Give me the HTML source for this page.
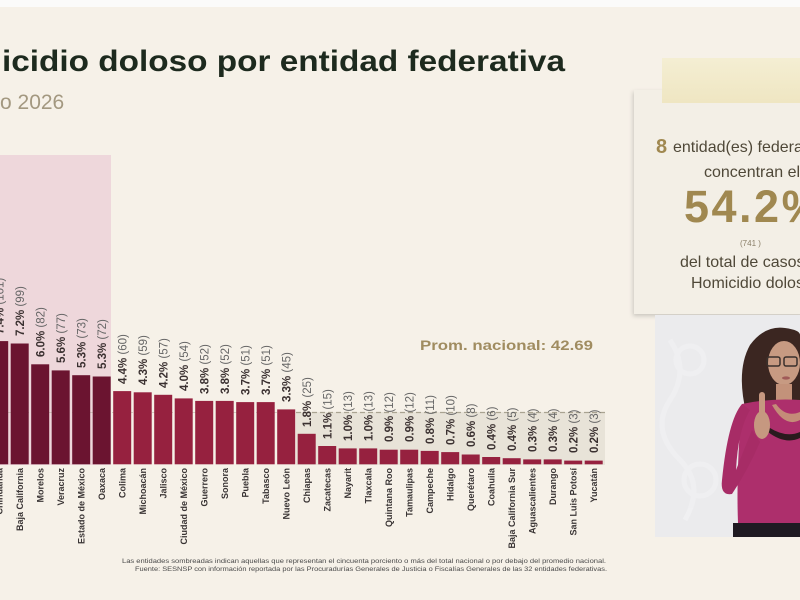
<!DOCTYPE html>
<html>
<head>
<meta charset="utf-8">
<style>
html,body{margin:0;padding:0;}
body{width:800px;height:600px;overflow:hidden;background:#f6f1e8;font-family:"Liberation Sans",sans-serif;}
svg{display:block;}
</style>
</head>
<body>
<svg width="800" height="600" viewBox="0 0 800 600" xmlns="http://www.w3.org/2000/svg" font-family="Liberation Sans, sans-serif">
  <rect x="0" y="0" width="800" height="600" fill="#f6f1e8"/>
  <rect x="0" y="0" width="800" height="7" fill="#fbfbfa"/>

  <!-- Title -->
  <text x="2" y="71" font-size="30" font-weight="bold" fill="#1d2a1e" textLength="563" lengthAdjust="spacingAndGlyphs">icidio doloso por entidad federativa</text>
  <text x="0" y="109" font-size="21" fill="#a39880">o 2026</text>

  <!-- Pink highlight region -->
  <rect x="0" y="155" width="111" height="310" fill="#eed7db"/>

  <!-- grey band below average -->
  <rect x="296" y="412" width="309" height="53" fill="#e8e3d8"/>
  <line x1="0" y1="412.5" x2="605" y2="412.5" stroke="#a9a391" stroke-width="1" stroke-dasharray="5,3" opacity="0.45"/>
  <line x1="296" y1="412.5" x2="605" y2="412.5" stroke="#a9a391" stroke-width="1.2" stroke-dasharray="5,3"/>

  <text x="420" y="350" font-size="14" font-weight="bold" fill="#a08c60" textLength="173" lengthAdjust="spacingAndGlyphs">Prom. nacional: 42.69</text>

  <!-- Bars -->
  <g>
    <rect x="-9.8" y="341.1" width="18" height="123.2" fill="#6b1430"/>
    <rect x="10.7" y="343.5" width="18" height="120.8" fill="#6b1430"/>
    <rect x="31.2" y="364.3" width="18" height="100.0" fill="#6b1430"/>
    <rect x="51.7" y="370.4" width="18" height="93.9" fill="#6b1430"/>
    <rect x="72.2" y="375.2" width="18" height="89.1" fill="#6b1430"/>
    <rect x="92.7" y="376.5" width="18" height="87.8" fill="#6b1430"/>
    <rect x="113.2" y="391.1" width="18" height="73.2" fill="#96213f"/>
    <rect x="133.7" y="392.3" width="18" height="72.0" fill="#96213f"/>
    <rect x="154.2" y="394.8" width="18" height="69.5" fill="#96213f"/>
    <rect x="174.7" y="398.4" width="18" height="65.9" fill="#96213f"/>
    <rect x="195.2" y="400.9" width="18" height="63.4" fill="#96213f"/>
    <rect x="215.7" y="400.9" width="18" height="63.4" fill="#96213f"/>
    <rect x="236.2" y="402.1" width="18" height="62.2" fill="#96213f"/>
    <rect x="256.7" y="402.1" width="18" height="62.2" fill="#96213f"/>
    <rect x="277.2" y="409.4" width="18" height="54.9" fill="#96213f"/>
    <rect x="297.7" y="433.8" width="18" height="30.5" fill="#96213f"/>
    <rect x="318.2" y="446.0" width="18" height="18.3" fill="#96213f"/>
    <rect x="338.7" y="448.4" width="18" height="15.9" fill="#96213f"/>
    <rect x="359.2" y="448.4" width="18" height="15.9" fill="#96213f"/>
    <rect x="379.7" y="449.7" width="18" height="14.6" fill="#96213f"/>
    <rect x="400.2" y="449.7" width="18" height="14.6" fill="#96213f"/>
    <rect x="420.7" y="450.9" width="18" height="13.4" fill="#96213f"/>
    <rect x="441.2" y="452.1" width="18" height="12.2" fill="#96213f"/>
    <rect x="461.7" y="454.5" width="18" height="9.8" fill="#96213f"/>
    <rect x="482.2" y="457.0" width="18" height="7.3" fill="#96213f"/>
    <rect x="502.7" y="458.2" width="18" height="6.1" fill="#96213f"/>
    <rect x="523.2" y="459.4" width="18" height="4.9" fill="#96213f"/>
    <rect x="543.7" y="459.4" width="18" height="4.9" fill="#96213f"/>
    <rect x="564.2" y="460.6" width="18" height="3.7" fill="#96213f"/>
    <rect x="584.7" y="460.6" width="18" height="3.7" fill="#96213f"/>
  </g>

  <!-- Value labels -->
  <g font-size="11.5" fill="#3a3030">
    <text transform="translate(3.4,334) rotate(-90)"><tspan font-weight="bold">7.4%</tspan><tspan fill="#666"> (101)</tspan></text>
    <text transform="translate(23.9,336) rotate(-90)"><tspan font-weight="bold">7.2%</tspan><tspan fill="#666"> (99)</tspan></text>
    <text transform="translate(44.4,357) rotate(-90)"><tspan font-weight="bold">6.0%</tspan><tspan fill="#666"> (82)</tspan></text>
    <text transform="translate(64.9,363) rotate(-90)"><tspan font-weight="bold">5.6%</tspan><tspan fill="#666"> (77)</tspan></text>
    <text transform="translate(85.4,368) rotate(-90)"><tspan font-weight="bold">5.3%</tspan><tspan fill="#666"> (73)</tspan></text>
    <text transform="translate(105.9,369) rotate(-90)"><tspan font-weight="bold">5.3%</tspan><tspan fill="#666"> (72)</tspan></text>
    <text transform="translate(126.4,384) rotate(-90)"><tspan font-weight="bold">4.4%</tspan><tspan fill="#666"> (60)</tspan></text>
    <text transform="translate(146.9,385) rotate(-90)"><tspan font-weight="bold">4.3%</tspan><tspan fill="#666"> (59)</tspan></text>
    <text transform="translate(167.4,388) rotate(-90)"><tspan font-weight="bold">4.2%</tspan><tspan fill="#666"> (57)</tspan></text>
    <text transform="translate(187.9,391) rotate(-90)"><tspan font-weight="bold">4.0%</tspan><tspan fill="#666"> (54)</tspan></text>
    <text transform="translate(208.4,394) rotate(-90)"><tspan font-weight="bold">3.8%</tspan><tspan fill="#666"> (52)</tspan></text>
    <text transform="translate(228.9,394) rotate(-90)"><tspan font-weight="bold">3.8%</tspan><tspan fill="#666"> (52)</tspan></text>
    <text transform="translate(249.4,395) rotate(-90)"><tspan font-weight="bold">3.7%</tspan><tspan fill="#666"> (51)</tspan></text>
    <text transform="translate(269.9,395) rotate(-90)"><tspan font-weight="bold">3.7%</tspan><tspan fill="#666"> (51)</tspan></text>
    <text transform="translate(290.4,402) rotate(-90)"><tspan font-weight="bold">3.3%</tspan><tspan fill="#666"> (45)</tspan></text>
    <text transform="translate(310.9,427) rotate(-90)"><tspan font-weight="bold">1.8%</tspan><tspan fill="#666"> (25)</tspan></text>
    <text transform="translate(331.4,439) rotate(-90)"><tspan font-weight="bold">1.1%</tspan><tspan fill="#666"> (15)</tspan></text>
    <text transform="translate(351.9,441) rotate(-90)"><tspan font-weight="bold">1.0%</tspan><tspan fill="#666"> (13)</tspan></text>
    <text transform="translate(372.4,441) rotate(-90)"><tspan font-weight="bold">1.0%</tspan><tspan fill="#666"> (13)</tspan></text>
    <text transform="translate(392.9,442) rotate(-90)"><tspan font-weight="bold">0.9%</tspan><tspan fill="#666"> (12)</tspan></text>
    <text transform="translate(413.4,442) rotate(-90)"><tspan font-weight="bold">0.9%</tspan><tspan fill="#666"> (12)</tspan></text>
    <text transform="translate(433.9,444) rotate(-90)"><tspan font-weight="bold">0.8%</tspan><tspan fill="#666"> (11)</tspan></text>
    <text transform="translate(454.4,445) rotate(-90)"><tspan font-weight="bold">0.7%</tspan><tspan fill="#666"> (10)</tspan></text>
    <text transform="translate(474.9,447) rotate(-90)"><tspan font-weight="bold">0.6%</tspan><tspan fill="#666"> (8)</tspan></text>
    <text transform="translate(495.4,450) rotate(-90)"><tspan font-weight="bold">0.4%</tspan><tspan fill="#666"> (6)</tspan></text>
    <text transform="translate(515.9,451) rotate(-90)"><tspan font-weight="bold">0.4%</tspan><tspan fill="#666"> (5)</tspan></text>
    <text transform="translate(536.4,452) rotate(-90)"><tspan font-weight="bold">0.3%</tspan><tspan fill="#666"> (4)</tspan></text>
    <text transform="translate(556.9,452) rotate(-90)"><tspan font-weight="bold">0.3%</tspan><tspan fill="#666"> (4)</tspan></text>
    <text transform="translate(577.4,453) rotate(-90)"><tspan font-weight="bold">0.2%</tspan><tspan fill="#666"> (3)</tspan></text>
    <text transform="translate(597.9,453) rotate(-90)"><tspan font-weight="bold">0.2%</tspan><tspan fill="#666"> (3)</tspan></text>
  </g>

  <!-- Category labels -->
  <g font-size="9" font-weight="bold" fill="#3a3535" text-anchor="end">
    <text transform="translate(2.7,468) rotate(-90)">Chihuahua</text>
    <text transform="translate(23.2,468) rotate(-90)">Baja California</text>
    <text transform="translate(43.7,468) rotate(-90)">Morelos</text>
    <text transform="translate(64.2,468) rotate(-90)">Veracruz</text>
    <text transform="translate(84.7,468) rotate(-90)">Estado de México</text>
    <text transform="translate(105.2,468) rotate(-90)">Oaxaca</text>
    <text transform="translate(125.7,468) rotate(-90)">Colima</text>
    <text transform="translate(146.2,468) rotate(-90)">Michoacán</text>
    <text transform="translate(166.7,468) rotate(-90)">Jalisco</text>
    <text transform="translate(187.2,468) rotate(-90)">Ciudad de México</text>
    <text transform="translate(207.7,468) rotate(-90)">Guerrero</text>
    <text transform="translate(228.2,468) rotate(-90)">Sonora</text>
    <text transform="translate(248.7,468) rotate(-90)">Puebla</text>
    <text transform="translate(269.2,468) rotate(-90)">Tabasco</text>
    <text transform="translate(289.7,468) rotate(-90)">Nuevo León</text>
    <text transform="translate(310.2,468) rotate(-90)">Chiapas</text>
    <text transform="translate(330.7,468) rotate(-90)">Zacatecas</text>
    <text transform="translate(351.2,468) rotate(-90)">Nayarit</text>
    <text transform="translate(371.7,468) rotate(-90)">Tlaxcala</text>
    <text transform="translate(392.2,468) rotate(-90)">Quintana Roo</text>
    <text transform="translate(412.7,468) rotate(-90)">Tamaulipas</text>
    <text transform="translate(433.2,468) rotate(-90)">Campeche</text>
    <text transform="translate(453.7,468) rotate(-90)">Hidalgo</text>
    <text transform="translate(474.2,468) rotate(-90)">Querétaro</text>
    <text transform="translate(494.7,468) rotate(-90)">Coahuila</text>
    <text transform="translate(515.2,468) rotate(-90)">Baja California Sur</text>
    <text transform="translate(535.7,468) rotate(-90)">Aguascalientes</text>
    <text transform="translate(556.2,468) rotate(-90)">Durango</text>
    <text transform="translate(576.7,468) rotate(-90)">San Luis Potosí</text>
    <text transform="translate(597.2,468) rotate(-90)">Yucatán</text>
  </g>

  <!-- Footer -->
  <text x="606" y="563" font-size="6.5" fill="#4a4a4a" text-anchor="end" textLength="484" lengthAdjust="spacingAndGlyphs">Las entidades sombreadas indican aquellas que representan el cincuenta porciento o más del total nacional o por debajo del promedio nacional.</text>
  <text x="607" y="571" font-size="6.5" fill="#4a4a4a" text-anchor="end" textLength="472" lengthAdjust="spacingAndGlyphs">Fuente: SESNSP con información reportada por las Procuradurías Generales de Justicia o Fiscalías Generales de las 32 entidades federativas.</text>

  <!-- Right card -->
  <defs>
    <filter id="sh" x="-10%" y="-10%" width="130%" height="130%">
      <feDropShadow dx="-1" dy="2" stdDeviation="2" flood-color="#000" flood-opacity="0.18"/>
    </filter>
    <linearGradient id="tape" x1="0" y1="0" x2="0" y2="1">
      <stop offset="0" stop-color="#f4eed3"/>
      <stop offset="1" stop-color="#efe6c2"/>
    </linearGradient>
  </defs>
  <rect x="634" y="90" width="170" height="224" fill="#f3efe6" filter="url(#sh)"/>
  <rect x="662" y="58" width="140" height="45" fill="url(#tape)"/>
  <text x="656" y="153" font-size="20" font-weight="bold" fill="#a08850">8</text>
  <text x="673" y="152" font-size="16" fill="#4f4838">entidad(es) federativas</text>
  <text x="704" y="177" font-size="16" fill="#4f4838">concentran el</text>
  <text x="684" y="222" font-size="45" font-weight="bold" fill="#a08850" letter-spacing="2.5">54.2%</text>
  <text x="740" y="246" font-size="8" fill="#8a7f68">(741 )</text>
  <text x="680" y="267" font-size="16" fill="#4f4838">del total de casos de</text>
  <text x="691" y="288" font-size="16" fill="#4f4838">Homicidio doloso</text>

  <!-- Interpreter video -->
  <rect x="655" y="315" width="145" height="222" fill="#ebebed"/>
  <g fill="none" stroke="#f3f3f5" stroke-width="5" opacity="0.6">
    <path d="M670 340 q20 30 0 60 q-20 30 10 60 q25 25 5 60"/>
    <circle cx="690" cy="360" r="14"/>
    <circle cx="700" cy="480" r="16"/>
  </g>
  <!-- hair -->
  <path d="M746 412 Q736 370 750 345 Q765 325 785 328 Q800 330 800 335 L800 412 Q790 395 780 400 Q760 412 746 412 Z" fill="#3b2621"/>
  <!-- face -->
  <ellipse cx="784" cy="363" rx="16" ry="22" fill="#c79a82"/>
  <rect x="776" y="384" width="16" height="18" fill="#c3927a"/>
  <!-- glasses -->
  <g fill="none" stroke="#3a302c" stroke-width="1.5">
    <rect x="767" y="357" width="13" height="9" rx="2"/>
    <rect x="784" y="357" width="13" height="9" rx="2"/>
  </g>
  <ellipse cx="786" cy="378" rx="4" ry="1.6" fill="#a05a58"/>
  <!-- torso -->
  <path d="M742 404 Q770 398 800 400 L800 523 L738 523 Q736 470 742 404 Z" fill="#ad2f6c"/>
  <path d="M768 432 Q785 445 800 438 L800 432 Q786 438 770 428 Z" fill="#2a1a1e"/>
  <path d="M772 405 Q785 428 800 420 L800 412 Q786 418 776 404 Z" fill="#c48c78"/>
  <!-- arm -->
  <path d="M742 404 Q728 420 722 480 Q720 496 732 494 Q748 470 760 442 L752 430 Q744 450 736 470 Q738 430 750 410 Z" fill="#a72c66"/>
  <!-- hand -->
  <ellipse cx="762" cy="425" rx="8" ry="14" fill="#c69880"/>
  <rect x="759" y="392" width="6" height="30" rx="3" fill="#c69880"/>
  <!-- pants -->
  <rect x="733" y="523" width="67" height="14" fill="#1f1a22"/>
</svg>
</body>
</html>
